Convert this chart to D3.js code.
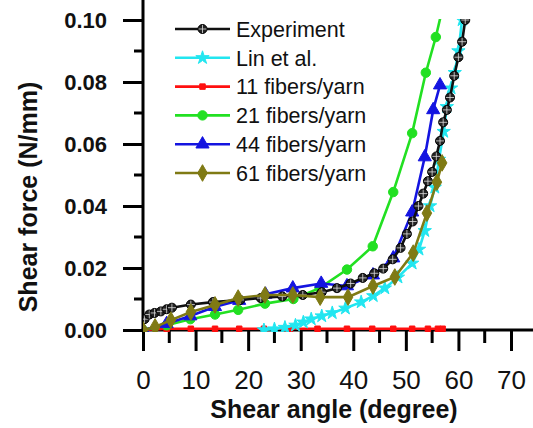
<!DOCTYPE html>
<html>
<head>
<meta charset="utf-8">
<script src="https://cdn.jsdelivr.net/npm/d3@7"></script>
<style>
  body { margin: 0; background: #fff; }
  text { font-family: "Liberation Sans", Arial, sans-serif; }
</style>
</head>
<body>
<div id="chart"></div>
<script>
// shear angle (degree) / shear force (N/mm)
const experiment = [[0.3,0.0035],[1.2,0.005],[2.2,0.0055],[3.4,0.006],[4.5,0.0067],[5.5,0.0072],[9.1,0.0082],[13.3,0.009],[18.5,0.0097],[22.4,0.0103],[26.5,0.0108],[30.4,0.0113],[34,0.0122],[36.9,0.0135],[39.5,0.015],[41.8,0.0168],[44,0.0183],[45.7,0.0198],[47.5,0.0228],[49,0.0265],[50.2,0.031],[51.3,0.035],[52.4,0.040],[53.3,0.044],[54.2,0.048],[55,0.051],[55.8,0.056],[56.5,0.061],[57.1,0.067],[57.8,0.071],[58.4,0.075],[59.2,0.082],[60,0.088],[60.7,0.093],[61.3,0.1]]
const linEtAl = [[23,0],[25,0.0003],[27,0.0008],[29,0.0015],[30.5,0.0025],[32,0.0035],[34,0.0045],[36,0.0055],[38.5,0.007],[41.5,0.009],[43.8,0.011],[46,0.0135],[48.5,0.017],[51.2,0.0215],[52.5,0.026],[53.6,0.032],[54.6,0.04],[55.5,0.046],[56.3,0.055],[57.2,0.064],[57.8,0.072],[58.6,0.078],[59.3,0.083],[60,0.09],[60.7,0.1],[61.2,0.106]]
const fibers11 = [[0,0],[4.5,0.0004],[9.1,0.0004],[13.7,0.0004],[18.3,0.0004],[23,0.0004],[28,0.0004],[33.2,0.0004],[38.8,0.0004],[43.6,0.0004],[47.6,0.0004],[51.2,0.0004],[54.2,0.0004],[56.1,0.0004],[57,0.0004]]
const fibers21 = [[0,0],[4.5,0.0015],[9,0.0035],[13.7,0.005],[18.1,0.0065],[23.2,0.0085],[28.6,0.01],[33.6,0.0135],[38.8,0.0195],[43.7,0.027],[47.6,0.0445],[51.2,0.0635],[53.8,0.083],[55.7,0.0945],[57,0.104]]
const fibers44 = [[0,0],[4.5,0.002],[9,0.0045],[13.7,0.0075],[18.3,0.0095],[23.3,0.0115],[28.5,0.0135],[33.9,0.015],[38.8,0.0142],[43.75,0.0177],[47.6,0.0232],[51.2,0.038],[53.6,0.0558],[55.2,0.071],[56.5,0.079]]
const fibers61 = [[0,0],[2.3,0.001],[5.3,0.0032],[9.1,0.0058],[13.7,0.0081],[18.1,0.0103],[23.2,0.0113],[28.5,0.0113],[33.7,0.0106],[39,0.0106],[43.75,0.0142],[47.9,0.0171],[51.4,0.0248],[54,0.0377],[55.9,0.0477],[56.9,0.0539]]

const seriesNames = ["Experiment", "Lin et al.", "11 fibers/yarn", "21 fibers/yarn", "44 fibers/yarn", "61 fibers/yarn"]
const xTicks = [0, 10, 20, 30, 40, 50, 60, 70]
const yTicks = [0, 0.02, 0.04, 0.06, 0.08, 0.10]

const width = 533, height = 428
const margin = {top: 4, right: 0, bottom: 98, left: 143}

const series = [
  {name: seriesNames[0], data: experiment, color: "#111", symbol: "exp"},
  {name: seriesNames[1], data: linEtAl, color: "#22e6f0", symbol: "star"},
  {name: seriesNames[2], data: fibers11, color: "#ff1010", symbol: "square"},
  {name: seriesNames[3], data: fibers21, color: "#22e022", symbol: "circle"},
  {name: seriesNames[4], data: fibers44, color: "#1414e0", symbol: "triangle"},
  {name: seriesNames[5], data: fibers61, color: "#7f7a14", symbol: "diamond"}
]
// draw order: bottom first
const drawOrder = [2, 1, 3, 4, 0, 5]

const svg = d3.select("#chart").append("svg")
  .attr("width", width)
  .attr("height", height)

const x = d3.scaleLinear().domain([0, 75]).range([margin.left, margin.left + 75 * 5.257])
const y = d3.scaleLinear().domain([0, 0.1]).range([330, 20])

svg.append("clipPath").attr("id", "plot")
  .append("rect").attr("x", margin.left).attr("y", 19)
  .attr("width", width - margin.left).attr("height", 313)

/**
 * Axes
 */
const yAxis = svg.append("g")
  .attr("transform", `translate(${margin.left},0)`)
  .call(d3.axisLeft(y).tickValues(yTicks).tickFormat(d3.format(".2f")).tickSize(20).tickSizeOuter(0))
yAxis.select(".domain").remove()
yAxis.selectAll(".tick line").attr("stroke", "#000").attr("stroke-width", 3)
yAxis.selectAll(".tick text")
  .attr("x", -36).attr("dy", "0.36em")
  .attr("font-size", 22).attr("font-weight", "bold").attr("fill", "#111")
  .attr("font-family", "Liberation Sans, Arial, sans-serif")
yAxis.selectAll(".minor")
  .data([0.01, 0.03, 0.05, 0.07, 0.09])
  .enter().append("line").attr("class", "minor")
  .attr("x1", -9).attr("x2", 0)
  .attr("y1", d => y(d)).attr("y2", d => y(d))
  .attr("stroke", "#000").attr("stroke-width", 3)
yAxis.append("line")
  .attr("x1", 0).attr("x2", 0).attr("y1", 0).attr("y2", y(0) + 1.5)
  .attr("stroke", "#000").attr("stroke-width", 3)

const xAxis = svg.append("g")
  .attr("transform", `translate(0,${y(0)})`)
  .call(d3.axisBottom(x).tickValues(xTicks).tickFormat(d3.format("d")).tickSize(21).tickSizeOuter(0))
xAxis.select(".domain").remove()
xAxis.selectAll(".tick line").attr("stroke", "#000").attr("stroke-width", 3)
xAxis.selectAll(".tick text")
  .attr("y", 41).attr("dy", "0.71em")
  .attr("font-size", 26).attr("fill", "#111")
  .attr("font-family", "Liberation Sans, Arial, sans-serif")
xAxis.selectAll(".minor")
  .data([5, 15, 25, 35, 45, 55, 65])
  .enter().append("line").attr("class", "minor")
  .attr("x1", d => x(d)).attr("x2", d => x(d))
  .attr("y1", 0).attr("y2", 13)
  .attr("stroke", "#000").attr("stroke-width", 3)
xAxis.append("line")
  .attr("x1", margin.left - 1.5).attr("x2", width).attr("y1", 0).attr("y2", 0)
  .attr("stroke", "#000").attr("stroke-width", 3)

svg.append("text")
  .attr("x", 334).attr("y", 418)
  .attr("text-anchor", "middle")
  .attr("font-size", 25).attr("font-weight", "bold").attr("fill", "#111")
  .text("Shear angle (degree)")

svg.append("text")
  .attr("transform", "translate(37,197) rotate(-90)")
  .attr("text-anchor", "middle")
  .attr("font-size", 25).attr("font-weight", "bold").attr("fill", "#111")
  .text("Shear force (N/mm)")

/**
 * Markers
 */
function drawMarker(g, s, cx, cy) {
  if (s.symbol === "exp") {
    g.append("circle").attr("cx", cx).attr("cy", cy).attr("r", 4.5)
      .attr("fill", "#222").attr("stroke", "#000").attr("stroke-width", 1)
    g.append("path").attr("d", `M${cx - 4},${cy}H${cx + 4}M${cx},${cy - 4}V${cy + 4}`)
      .attr("stroke", "#ddd").attr("stroke-width", 0.8)
    return
  }
  const types = {
    star: [d3.symbolStar, 55],
    square: [d3.symbolSquare, 30],
    circle: [d3.symbolCircle, 70],
    triangle: [d3.symbolTriangle, 75],
    diamond: [d3.symbolDiamond, 80]
  }
  const t = types[s.symbol]
  g.append("path")
    .attr("transform", `translate(${cx},${cy})`)
    .attr("d", d3.symbol().type(t[0]).size(t[1])())
    .attr("fill", s.color).attr("stroke", s.color).attr("stroke-width", 1)
}

/**
 * Series
 */
const plot = svg.append("g").attr("clip-path", "url(#plot)")
const line = d3.line().x(d => x(d[0])).y(d => y(d[1]))

drawOrder.forEach(i => {
  const s = series[i]
  const g = plot.append("g")
  g.append("path")
    .datum(s.data)
    .attr("d", line)
    .attr("fill", "none")
    .attr("stroke", s.color)
    .attr("stroke-width", 2.6)
  s.data.forEach(d => drawMarker(g, s, x(d[0]), y(d[1])))
})

/**
 * Legend
 */
const legend = svg.append("g").attr("transform", "translate(175,29)")
series.forEach((s, i) => {
  const row = legend.append("g").attr("transform", `translate(0,${i * 28.8})`)
  row.append("line").attr("x1", 0).attr("x2", 55).attr("y1", 0).attr("y2", 0)
    .attr("stroke", s.color).attr("stroke-width", 2.6)
  drawMarker(row, s, 27.5, 0)
  row.append("text")
    .attr("x", 61).attr("y", 0).attr("dy", "0.36em")
    .attr("font-size", 21.5).attr("fill", "#111")
    .text(s.name)
})
</script>
</body>
</html>
